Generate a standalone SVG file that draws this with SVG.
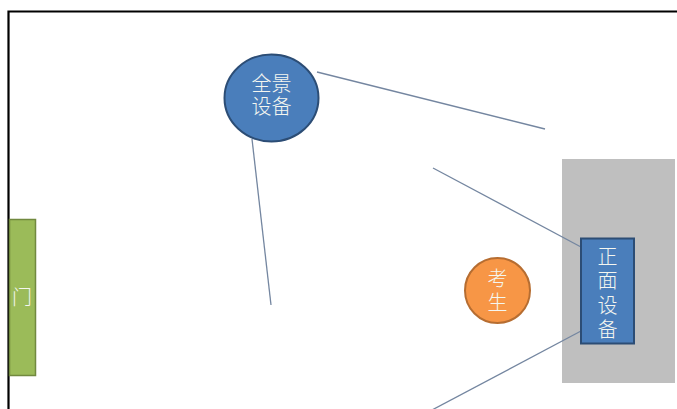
<svg xmlns="http://www.w3.org/2000/svg" width="677" height="409" viewBox="0 0 677 409">
<style>
.lbl{font-family:"Noto Sans CJK SC","Liberation Sans",sans-serif;font-size:20px;font-weight:300;fill:#f4f6f0;text-anchor:middle}
.conn{stroke:#7486a0;stroke-width:1.3;fill:none}
.blue{fill:#4a7ebb;stroke:#2c4d75;stroke-width:2}
</style>
<rect x="0" y="0" width="677" height="409" fill="#ffffff"/>
<path d="M8.5 420 V11.5 H690" fill="none" stroke="#000" stroke-width="2.2"/>
<g id="zone"><rect x="562" y="159" width="113" height="224" fill="#bfbfbf"/></g>
<g id="connectors">
<line class="conn" x1="317" y1="72" x2="545" y2="129"/>
<line class="conn" x1="252" y1="139" x2="271" y2="305"/>
<line class="conn" x1="433" y1="168" x2="581" y2="247"/>
<line class="conn" x1="581" y1="331" x2="432" y2="410"/>
</g>
<g id="door">
<rect x="9.5" y="219.5" width="26" height="156" fill="#9bbb59" stroke="#71893f" stroke-width="1.5"/>
<text class="lbl" x="22" y="305">门</text>
</g>
<g id="panorama">
<ellipse class="blue" cx="271.5" cy="98" rx="47" ry="43.5"/>
<text class="lbl" x="271.5" y="91">全景<tspan x="271.5" dy="23">设备</tspan></text>
</g>
<g id="front">
<rect class="blue" x="581" y="238.5" width="53" height="105"/>
<text class="lbl" x="607.5" y="246" writing-mode="tb" style="letter-spacing:4.5px;text-anchor:start">正面设备</text>
</g>
<g id="examinee">
<circle cx="497.5" cy="290.5" r="32.5" fill="#f79646" stroke="#b66d31" stroke-width="2"/>
<text class="lbl" x="497.5" y="286">考<tspan x="497.5" dy="24">生</tspan></text>
</g>
</svg>
